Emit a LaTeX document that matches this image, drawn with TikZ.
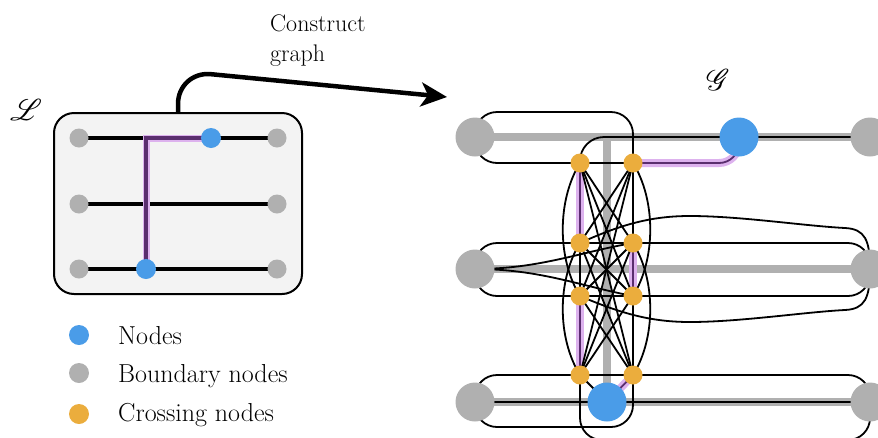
\documentclass[tikz,border=0pt]{standalone}
\usepackage{fontspec}
\usepackage{mathrsfs}
\usetikzlibrary{arrows.meta}
\definecolor{bgray}{HTML}{B0B0B0}
\definecolor{nblue}{HTML}{4A9CE8}
\definecolor{corange}{HTML}{EBAD3D}
\definecolor{plight}{HTML}{DDB2EE}
\definecolor{pdark}{HTML}{5A2E6E}
\definecolor{panelfill}{HTML}{F3F3F3}
\pgfdeclarelayer{panel}
\pgfdeclarelayer{graylines}
\pgfdeclarelayer{halo}
\pgfdeclarelayer{edges}
\pgfsetlayers{panel,graylines,halo,edges,main}
\begin{document}
\begin{tikzpicture}[x=1pt,y=-1pt,
  dot/.style={circle,inner sep=0pt,outer sep=0pt},
  smallgray/.style={dot,fill=bgray,minimum size=19pt},
  smallblue/.style={dot,fill=nblue,minimum size=20pt},
  biggray/.style={dot,fill=bgray,minimum size=39pt},
  bigblue/.style={dot,fill=nblue,minimum size=39pt},
  cross/.style={dot,fill=corange,minimum size=19pt},
  legdot/.style={dot,minimum size=20pt},
  legtext/.style={anchor=base west,inner sep=0pt,font=\fontsize{26}{30}\selectfont},
  rowline/.style={line width=3.5pt},
  grayline/.style={line width=8pt,bgray},
  edge/.style={line width=1.8pt,black},
  halo/.style={line width=8pt,plight},
  route/.style={line width=1.8pt,pdark},
  bigarrow/.style={line width=4.5pt,-{Stealth[length=26pt,width=24pt,inset=7pt]}}
]
\useasboundingbox (0,0) rectangle (878,437);
\clip (0,0) rectangle (878,437);

% ---------- left: the layout ----------
\begin{pgfonlayer}{panel}
  \node[draw,line width=2pt,fill=panelfill,rounded corners=20pt,
        minimum width=248pt,minimum height=181pt,inner sep=0pt] (panelL) at (178,203.5) {};
\end{pgfonlayer}
\node[scale=3,inner sep=0pt] (Lcal) at (26,110) {$\mathscr{L}$};

\node[smallgray] (l11) at (79,138) {};
\node[smallgray] (l12) at (277,138) {};
\node[smallgray] (l21) at (79,204) {};
\node[smallgray] (l22) at (277,204) {};
\node[smallgray] (l31) at (79,269) {};
\node[smallgray] (l32) at (277,269) {};
\node[smallblue] (lb1) at (211,138) {};
\node[smallblue] (lb2) at (146,269) {};
\coordinate (lcorner) at (146,138);

\begin{pgfonlayer}{edges}
  \draw[rowline] (l11.center) -- (l12.center);
  \draw[rowline] (l21.center) -- (l22.center);
  \draw[rowline] (l31.center) -- (l32.center);
  \draw[line width=7pt,plight,shift={(1.5,-1.5)}] (lb1.center) -- (lcorner) -- (lb2.center);
  \draw[line width=4.5pt,pdark] (lb1.center) -- (lcorner) -- (lb2.center);
\end{pgfonlayer}

% ---------- arrow and its label ----------
\node[anchor=north west,inner sep=0pt,align=left,font=\fontsize{24}{30}\selectfont] (lbl) at (270,15) {Construct\\graph};
\coordinate (bend) at (178,71);
\coordinate (arrowend) at (447,97);
\draw[bigarrow,rounded corners=33pt] (panelL.north) -- (bend) -- (arrowend);

% ---------- legend ----------
\node[legdot,fill=nblue] (legN) at (79,335) {};
\node[legdot,fill=bgray] (legB) at (79,373) {};
\node[legdot,fill=corange] (legC) at (79,414) {};
\node[legtext] (legNt) at (118,344) {Nodes};
\node[legtext] (legBt) at (118,382) {Boundary nodes};
\node[legtext] (legCt) at (118,421) {Crossing nodes};

% ---------- right: the constructed graph ----------
\node[scale=3,inner sep=0pt] (Gcal) at (718,80) {$\mathscr{G}$};

\node[biggray] (g1L) at (475,137) {};
\node[biggray] (g2L) at (475,269) {};
\node[biggray] (g3L) at (475,402) {};
\node[biggray] (g1R) at (870,137) {};
\node[biggray] (g2R) at (870,269) {};
\node[biggray] (g3R) at (870,402) {};
\node[bigblue] (BT) at (739,137) {};
\node[bigblue] (BB) at (607,402) {};

\node[cross] (A1) at (580,163) {};
\node[cross] (A2) at (633,163) {};
\node[cross] (B1) at (580,243) {};
\node[cross] (B2) at (633,243) {};
\node[cross] (C1) at (580,296) {};
\node[cross] (C2) at (633,296) {};
\node[cross] (D1) at (580,375) {};
\node[cross] (D2) at (633,375) {};

\coordinate (vtop) at (607,137);
\coordinate (yT) at (0,112);
\coordinate (yB) at (0,427);
\coordinate (yC) at (0,440);

\begin{pgfonlayer}{graylines}
  \draw[grayline] (g1L.center) -- (g1R.center);
  \draw[grayline] (g2L.center) -- (g2R.center);
  \draw[grayline] (g3L.center) -- (g3R.center);
  \draw[grayline] (vtop) -- (BB.center);
\end{pgfonlayer}

\begin{pgfonlayer}{halo}
  \draw[halo,rounded corners=20pt] (BT.center) -- (BT |- A2) -- (A2.center);
  \draw[halo] (A1.center) -- (B1.center);
  \draw[halo] (C1.center) -- (D1.center);
  \draw[halo] (B2.center) -- (C2.center);
  \draw[halo] (D2.center) -- (BB.center);
\end{pgfonlayer}

\begin{pgfonlayer}{edges}
  % top row
  \draw[edge,rounded corners=22pt] (g1L.center) -- (g1L |- A1) -- (A1.center);
  \draw[edge] (A1.center) -- (A2.center);
  \draw[edge,rounded corners=22pt] (g1L.center) -- (g1L |- yT) -- (A2 |- yT) -- (A2.center);
  \draw[edge,rounded corners=24pt] (A1.center) -- (A1 |- g1R) -- (g1R.center);
  % middle row
  \draw[edge,rounded corners=22pt] (g2L.center) -- (g2L |- B1) -- (g2R |- B2) -- (g2R.center);
  \draw[edge,rounded corners=22pt] (g2L.center) -- (g2L |- C1) -- (g2R |- C2) -- (g2R.center);
  \draw[edge] (g2L.center) .. controls (540,269) and (580,252) .. (B2.center);
  \draw[edge] (g2L.center) .. controls (540,269) and (580,286) .. (C2.center);
  \draw[edge] (B1.center) .. controls (622,224) and (652,216) .. (690,216)
              .. controls (740,216) and (805,226) .. (845,228)
              .. controls (865,229) and (870,240) .. (g2R.center);
  \draw[edge] (C1.center) .. controls (622,314) and (652,322) .. (690,322)
              .. controls (740,322) and (805,312) .. (845,310)
              .. controls (865,309) and (870,298) .. (g2R.center);
  % bottom row
  \draw[edge,rounded corners=22pt] (g3L.center) -- (g3L |- D1) -- (g3R |- D2) -- (g3R.center);
  \draw[edge,rounded corners=22pt] (g3L.center) -- (g3L |- yB) -- (D2 |- yB) -- (D2.center);
  \draw[edge,rounded corners=22pt] (D1.center) -- (D1 |- yC) -- (g3R |- yC) -- (g3R.center);
  \draw[edge] (g3L.center) -- (BB.center) -- (g3R.center);
  \draw[edge] (D1.center) -- (BB.center);
  % inside the crossing
  \draw[edge] (B1.center) -- (C1.center);
  \draw[edge] (A2.center) -- (B2.center);
  \draw[edge] (C2.center) -- (D2.center);
  \draw[edge] (A1.center) .. controls (557,200) and (557,259) .. (C1.center);
  \draw[edge] (B1.center) .. controls (557,280) and (557,338) .. (D1.center);
  \draw[edge] (A2.center) .. controls (656,200) and (656,259) .. (C2.center);
  \draw[edge] (B2.center) .. controls (656,280) and (656,338) .. (D2.center);
  \foreach \a/\b in {A1/B2,A1/C2,A1/D2,A2/B1,A2/C1,A2/D1,B1/C2,B1/D2,B2/C1,B2/D1,C1/D2,C2/D1}
    \draw[edge] (\a.center) -- (\b.center);
  % route
  \draw[route,rounded corners=20pt] (BT.center) -- (BT |- A2) -- (A2.center);
  \draw[route] (A1.center) -- (B1.center);
  \draw[route] (C1.center) -- (D1.center);
  \draw[route] (B2.center) -- (C2.center);
  \draw[route] (D2.center) -- (BB.center);
\end{pgfonlayer}
\end{tikzpicture}
\end{document}
